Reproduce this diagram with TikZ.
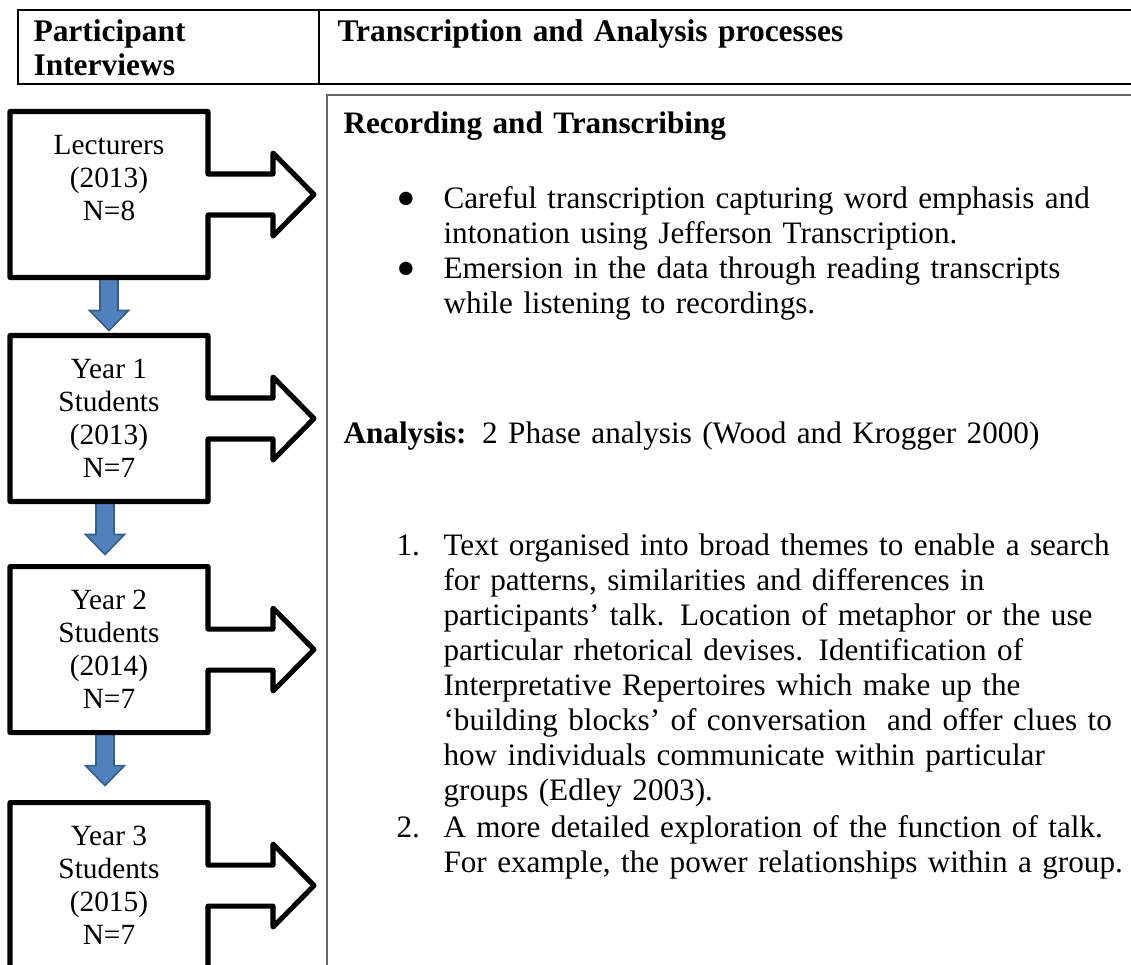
\documentclass[tikz,border=0pt]{standalone}
\usepackage{fontspec}
\setmainfont{Liberation Serif}
\usepackage{tikz}
\usetikzlibrary{calc,positioning}

\definecolor{arrowfill}{HTML}{4F81BD}
\definecolor{arrowline}{HTML}{385D8A}
\definecolor{panelgray}{HTML}{666666}

\begin{document}
\begin{tikzpicture}[
    x=0.375pt, y=-0.375pt,
    grp/.style={align=center, inner sep=0pt, outer sep=0pt, minimum width=74.25pt, minimum height=62.25pt,
      font=\fontsize{11}{12.4}\selectfont},
    calloutline/.style={draw, line width=1.9pt, line join=round},
    downarr/.style={fill=arrowfill, draw=arrowline, line width=0.6pt},
    hdrline/.style={draw, line width=0.9pt},
    hdrtext/.style={anchor=base west, inner sep=0pt, text width=110pt, align=left,
      font=\fontsize{11.8}{12.75}\selectfont\bfseries},
    bodytext/.style={anchor=base west, inner sep=0pt, text width=330pt, align=left,
      font=\fontsize{11.7}{13.125}\selectfont},
    itemmark/.style={anchor=base west, inner sep=0pt, font=\fontsize{11.7}{13.125}\selectfont}
  ]
  \useasboundingbox (0,0) rectangle (1131,964);
  \clip (0,0) rectangle (1131,964);

  % header row
  \draw[hdrline] (18,10) rectangle (1160,84);
  \draw[hdrline] (319,10) -- (319,84);
  \node[hdrtext] (hleft) at (33,41) {Participant\\Interviews};
  \node[hdrtext, text width=250pt] (hright) at (337,41) {Transcription and Analysis processes};

  % right panel
  \draw[panelgray, line width=0.75pt] (327,95) rectangle (1160,1000);

  % participant groups
  \node[grp] (lect) at (109,194.5) {Lecturers\\(2013)\\N=8\\~};
  \node[grp, below=21.75pt of lect] (yr1) {Year 1\\Students\\(2013)\\N=7};
  \node[grp, below=24.4pt of yr1] (yr2) {Year 2\\Students\\(2014)\\N=7};
  \node[grp, below=26.25pt of yr2] (yr3) {Year 3\\Students\\(2015)\\N=7};

  \foreach \a/\dx in {lect/0, yr1/-4, yr2/-4}
    \draw[downarr] ($(\a.south)+(\dx-9,0)$) -- ++(0,33) -- ++(-10.5,0) -- ++(19.5,20)
      -- ++(19.5,-20) -- ++(-10.5,0) -- ++(0,-33) -- cycle;

  \foreach \b in {lect,yr1,yr2,yr3}
    \draw[calloutline] (\b.north west) -- (\b.north east) -- ($(\b.east)+(0,-20.5)$)
      -- ++(65,0) -- ++(0,-21) -- ++(41,41.5) -- ++(-41,41.5) -- ++(0,-21)
      -- ++(-65,0) -- (\b.south east) -- (\b.south west) -- cycle;

  % transcription text
  \node[bodytext, font=\fontsize{11.7}{13.125}\selectfont\bfseries] (rec) at (343,133) {Recording and Transcribing};
  \node[itemmark] (bul1) at (396,208) {\raisebox{-3.6pt}{\scalebox{1.8}{\textbullet}}};
  \node[bodytext] (care) at (443,208) {Careful transcription capturing word emphasis and\\intonation using Jefferson Transcription.};
  \node[itemmark] (bul2) at (396,278) {\raisebox{-3.6pt}{\scalebox{1.8}{\textbullet}}};
  \node[bodytext] (emer) at (443,278) {Emersion in the data through reading transcripts\\while listening to recordings.};

  \node[bodytext] (ana) at (343,443) {\textbf{Analysis:} 2 Phase analysis (Wood and Krogger 2000)};
  \node[itemmark] (num1) at (396,555) {1.};
  \node[bodytext] (phase1) at (443,555) {Text organised into broad themes to enable a search\\
    for patterns, similarities and differences in\\
    participants’ talk. Location of metaphor or the use\\
    particular rhetorical devises. Identification of\\
    Interpretative Repertoires which make up the\\
    ‘building blocks’ of conversation~ and offer clues to\\
    how individuals communicate within particular\\
    groups (Edley 2003).};
  \node[itemmark] (num2) at (396,837) {2.};
  \node[bodytext] (phase2) at (443,837) {A more detailed exploration of the function of talk.\\
    For example, the power relationships within a group.};
\end{tikzpicture}
\end{document}
